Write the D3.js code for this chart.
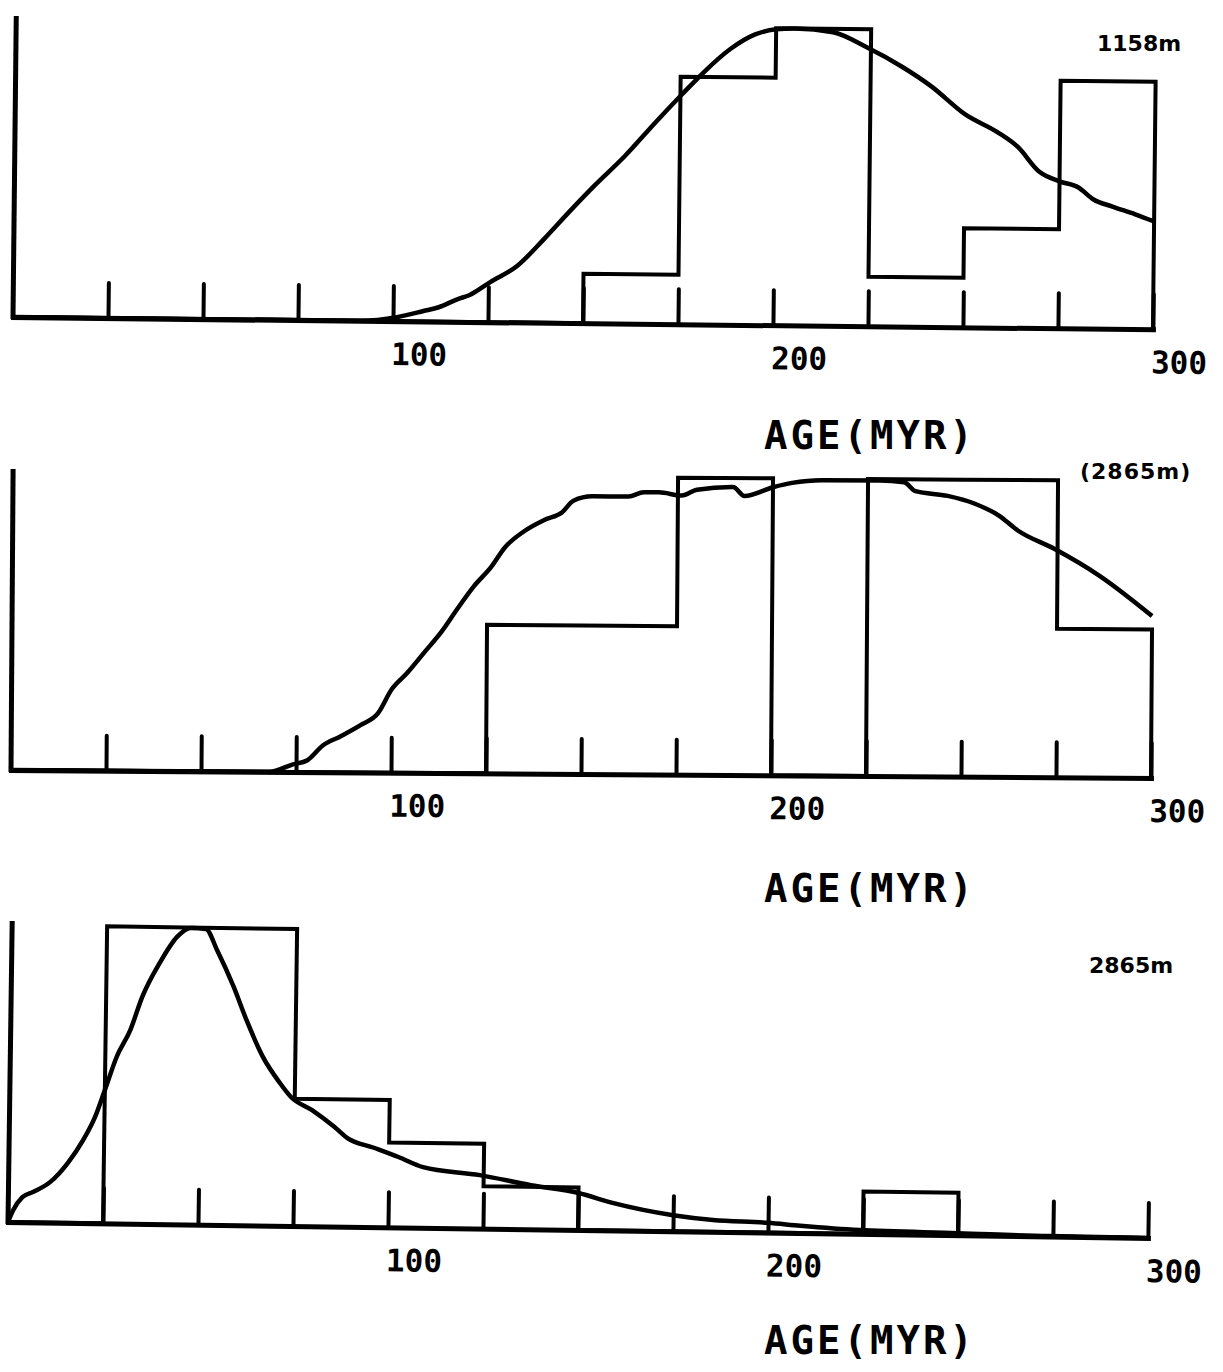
<!DOCTYPE html>
<html>
<head>
<meta charset="utf-8">
<script src="https://cdn.jsdelivr.net/npm/d3@7"></script>
<style>
  body { margin: 0; background: #fff; }
  svg { display: block; }
</style>
</head>
<body>
<svg id="chart" width="1223" height="1372"></svg>
<script>
// bins of 25 Myr, counts
const binStarts = [0, 25, 50, 75, 100, 125, 150, 175, 200, 225, 250, 275];
const counts1158 = [0, 0, 0, 0, 0, 0, 1, 5, 6, 1, 2, 5];
const counts2865a = [0, 0, 0, 0, 0, 1, 1, 2, 0, 2, 2, 1];
const counts2865b = [0, 7, 7, 3, 2, 1, 0, 0, 0, 1, 0, 0];

const tickValues = [25, 50, 75, 100, 125, 150, 175, 200, 225, 250, 275, 300];
const tickLabels = [100, 200, 300];
const depthLabels = ["1158m", "(2865m)", "2865m"];
const axisTitle = "AGE(MYR)";

// smoothed curves [age, value in count units]
const curve1158 = [[0,0],[75,0],[91,0],[101,0.08],[108,0.21],[112,0.29],[117,0.46],[120,0.54],
  [125.5,0.81],[132.5,1.14],[139.5,1.69],[146,2.24],[152.5,2.77],[160.5,3.38],[168.5,4.07],
  [175.5,4.65],[181,5.09],[188,5.57],[194.5,5.87],[200,5.98],[205,6.0],[215,5.93],[224,5.63],
  [233,5.26],[241,4.86],[250,4.30],[258.5,3.95],[264,3.65],[269.5,3.17],[275,2.97],[280,2.85],
  [284,2.61],[289,2.47],[295,2.32],[300,2.18]];

const curve2865a = [[0,0],[68,0],[74,0.05],[78,0.08],[82,0.18],[86.5,0.24],[92,0.32],[96.5,0.40],
  [100,0.56],[104,0.67],[108.5,0.81],[113,0.95],[117,1.10],[121.5,1.26],[126,1.39],[129.5,1.52],
  [134.5,1.63],[140,1.71],[144.5,1.76],[147.5,1.84],[152.5,1.87],[162,1.87],[166,1.90],[170,1.90],
  [176,1.88],[180,1.92],[189.5,1.94],[192.5,1.88],[200,1.94],[205,1.97],[213,1.99],[228,1.99],
  [234.5,1.98],[237.5,1.92],[246,1.89],[253,1.84],[259.5,1.76],[264.5,1.66],[274,1.54],
  [286,1.36],[300,1.09]];

const curve2865b = [[0,0],[1.3,0.28],[3.7,0.59],[6.6,0.72],[11,0.96],[15.5,1.41],[19.5,1.96],
  [22.5,2.50],[25,3.14],[28,3.93],[31.5,4.57],[34.5,5.35],[39,6.16],[43.5,6.78],[47,6.99],
  [51,6.97],[54,6.48],[58.5,5.62],[62,4.84],[66.5,3.97],[71,3.37],[74,3.04],[79.5,2.74],
  [85.5,2.35],[89,2.09],[96,1.87],[102.5,1.66],[109,1.43],[124,1.26],[137.5,1.04],[150,0.87],
  [159,0.65],[175,0.38],[185.5,0.28],[200,0.23],[208.5,0.17],[224,0.09],[250,0.05],[274,0.01],
  [300,0]];

let svg = d3.select("#chart")

// layout per panel (the scan is slightly tilted)
let panels = [
  { counts: counts1158, curve: curve1158, ymax: 6, x0: 13, base: 317, tilt: 0.62, label: depthLabels[0], lx: 1097, ly: 51 },
  { counts: counts2865a, curve: curve2865a, ymax: 2, x0: 11, base: 770, tilt: 0.40, label: depthLabels[1], lx: 1080, ly: 479 },
  { counts: counts2865b, curve: curve2865b, ymax: 7, x0: 8, base: 1222, tilt: 0.80, label: depthLabels[2], lx: 1089, ly: 973 }
]

function drawPanel(p) {
    let g = svg.append("g")
        .attr("transform", "rotate(" + p.tilt + "," + p.x0 + "," + p.base + ")")

    let x = d3.scaleLinear().domain([0, 300]).range([p.x0, p.x0 + 1140])
    let y = d3.scaleLinear().domain([0, p.ymax]).range([p.base, p.base - 297])

    // histogram drawn as one stepped outline
    let steps = [[0, 0]]
        .concat(binStarts.map((b, i) => [b, p.counts[i]]))
        .concat([[300, p.counts[p.counts.length - 1]], [300, 0]])

    let stepLine = d3.line()
        .x(d => x(d[0]))
        .y(d => y(d[1]))
        .curve(d3.curveStepAfter)

    g.append("path")
        .datum(steps)
        .attr("d", stepLine)
        .attr("fill", "none")
        .attr("stroke", "#000")
        .attr("stroke-width", 4)
        .attr("stroke-linejoin", "miter")

    let line = d3.line()
        .x(d => x(d[0]))
        .y(d => y(d[1]))
        .curve(d3.curveMonotoneX)

    g.append("path")
        .datum(p.curve)
        .attr("d", line)
        .attr("fill", "none")
        .attr("stroke", "#000")
        .attr("stroke-width", 4.5)
        .attr("stroke-linejoin", "round")

    let axis = g.append("g")
        .attr("transform", "translate(0," + p.base + ")")
        .call(d3.axisBottom(x)
            .tickValues(tickValues)
            .tickSize(-35)
            .tickSizeOuter(0)
            .tickFormat(d => tickLabels.includes(d) ? d : ""))

    axis.select(".domain").attr("stroke-width", 5).attr("stroke-linecap", "square")
    axis.selectAll(".tick line").attr("stroke-width", 4).attr("stroke-linecap", "round")
    axis.selectAll(".tick text")
        .attr("y", 44)
        .attr("dy", 0)
        .attr("dx", 26)
        .attr("fill", "#000")
        .style("font-family", "'DejaVu Sans Mono', monospace")
        .style("font-weight", "bold")
        .style("font-size", "31px")

    // left axis line
    g.append("line")
        .attr("x1", x(0)).attr("x2", x(0))
        .attr("y1", y(0) + 2).attr("y2", y(p.ymax) - 4)
        .attr("stroke", "#000")
        .attr("stroke-width", 5)

    svg.append("text")
        .attr("x", 764)
        .attr("y", p.base + 132)
        .style("font-family", "'DejaVu Sans Mono', monospace")
        .style("font-weight", "bold")
        .style("font-size", "39px")
        .style("letter-spacing", "3px")
        .text(axisTitle)

    svg.append("text")
        .attr("x", p.lx)
        .attr("y", p.ly)
        .style("font-family", "'DejaVu Sans', sans-serif")
        .style("font-weight", "bold")
        .style("font-size", "22px")
        .style("letter-spacing", p.label[0] == "(" ? "1px" : "0px")
        .text(p.label)
}

panels.forEach(drawPanel)
</script>
</body>
</html>
